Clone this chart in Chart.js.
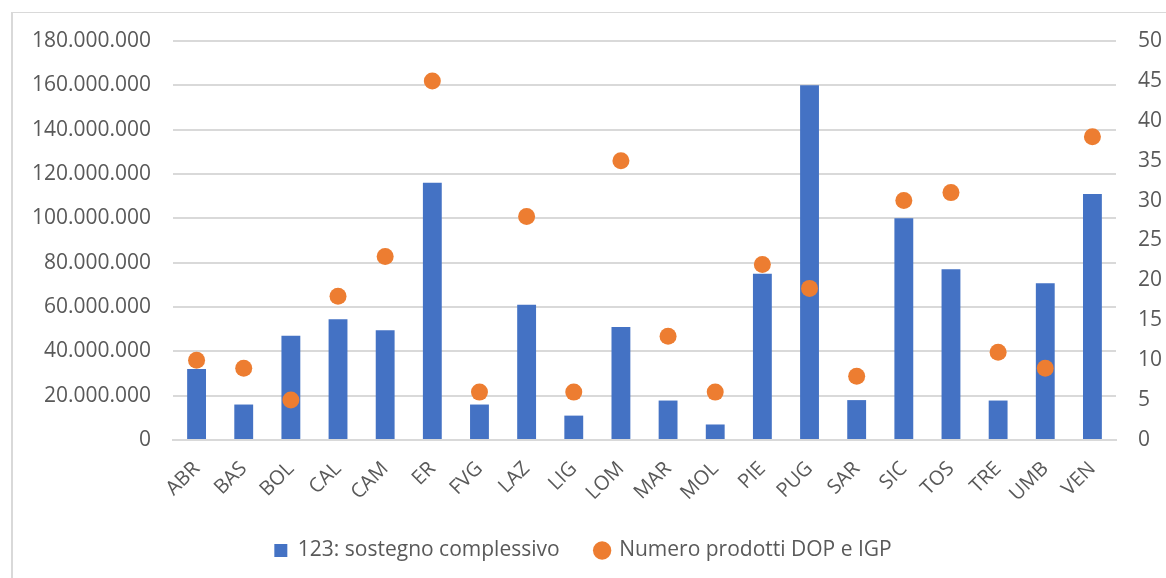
<!DOCTYPE html>
<html>
<head>
<meta charset="utf-8">
<script src="https://cdn.jsdelivr.net/npm/chart.js@4"></script>
<style>
    body { margin: 0; background: #fff; }
    #wrap { position: relative; width: 1166px; height: 578px; }
    #frame {
        position: absolute; left: 11px; top: 12px; right: 0; bottom: 0;
        border-left: 2px solid #D9D9D9; border-top: 1px solid #D9D9D9;
    }
    canvas { position: absolute; left: 0; top: 0; }
</style>
</head>
<body>
<div id="wrap">
    <div id="frame"></div>
    <canvas id="chart" width="1166" height="578"></canvas>
</div>
<script>
// Regioni
const regioni = ['ABR', 'BAS', 'BOL', 'CAL', 'CAM', 'ER', 'FVG', 'LAZ', 'LIG', 'LOM',
    'MAR', 'MOL', 'PIE', 'PUG', 'SAR', 'SIC', 'TOS', 'TRE', 'UMB', 'VEN'];

// 123: sostegno complessivo (euro)
const sostegno = [32000000, 16000000, 47000000, 54500000, 49500000, 116000000, 16000000, 61000000, 11000000, 51000000,
    17800000, 7000000, 75000000, 160000000, 18000000, 100000000, 77000000, 17800000, 70700000, 111000000];

// Numero prodotti DOP e IGP
const prodotti = [10, 9, 5, 18, 23, 45, 6, 28, 6, 35,
    13, 6, 22, 19, 8, 30, 31, 11, 9, 38];

const grigio = '#595959';
const griglia = '#D9D9D9';

function formatta(v) {
    return String(v).replace(/\B(?=(\d{3})+(?!\d))/g, '.');
}

const ctx = document.getElementById('chart').getContext('2d');
new Chart(ctx, {
    data: {
        labels: regioni,
        datasets: [
            {
                type: 'line',
                label: 'Numero prodotti DOP e IGP',
                data: prodotti,
                yAxisID: 'y1',
                showLine: false,
                pointRadius: 8.5,
                pointHoverRadius: 8.5,
                pointStyle: 'circle',
                backgroundColor: '#ED7D31',
                borderColor: '#ED7D31',
                borderWidth: 0,
                order: 0
            },
            {
                type: 'bar',
                label: '123: sostegno complessivo',
                data: sostegno,
                yAxisID: 'y',
                backgroundColor: '#4472C4',
                pointStyle: 'rect',
                barPercentage: 0.4,
                categoryPercentage: 1,
                order: 1
            }
        ]
    },
    options: {
        responsive: false,
        animation: false,
        layout: { padding: { top: 41, bottom: 7, left: 0, right: 0 } },
        plugins: {
            tooltip: { enabled: false },
            legend: {
                position: 'bottom',
                reverse: true,
                labels: {
                    usePointStyle: true,
                    boxWidth: 13,
                    boxHeight: 13,
                    padding: 36,
                    color: grigio,
                    font: { family: 'Open Sans', size: 21 }
                }
            }
        },
        scales: {
            x: {
                grid: { display: false },
                border: { display: true, color: griglia, width: 2 },
                ticks: {
                    color: grigio,
                    minRotation: 45,
                    maxRotation: 45,
                    padding: 9,
                    font: { family: 'Open Sans', size: 20 }
                },
                afterFit: (s) => { s.height = 64; }
            },
            y: {
                position: 'left',
                min: 0,
                max: 180000000,
                ticks: {
                    stepSize: 20000000,
                    color: grigio,
                    padding: 22,
                    font: { family: 'Open Sans', size: 21 },
                    callback: (v) => formatta(v)
                },
                grid: { color: griglia, lineWidth: 2, drawTicks: false },
                border: { display: false },
                afterFit: (s) => { s.width = 173; }
            },
            y1: {
                position: 'right',
                min: 0,
                max: 50,
                ticks: {
                    stepSize: 5,
                    color: grigio,
                    padding: 22,
                    font: { family: 'Open Sans', size: 21 }
                },
                grid: { display: false, drawTicks: false },
                border: { display: false },
                afterFit: (s) => { s.width = 50; }
            }
        }
    }
});
</script>
</body>
</html>
